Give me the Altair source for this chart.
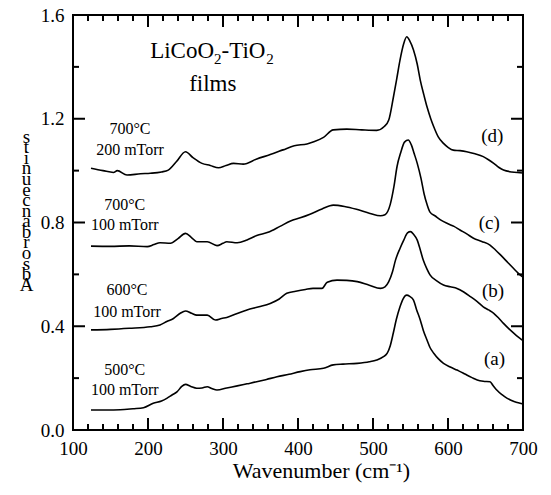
import altair as alt
import pandas as pd

FONT = "Liberation Serif"

# ---- spectra (wavenumber, absorbance) ----
x_a = [124, 145, 163, 180, 194, 207, 218, 225, 232, 239, 245, 250, 257, 265, 272, 279, 285, 292, 305, 319,
       332, 345, 358, 372, 388, 403, 416, 434, 447, 460, 479, 495, 505, 514, 519, 523, 527, 531, 536, 540,
       545, 549, 554, 558, 563, 567, 572, 576, 581, 587, 594, 603, 612, 620, 625, 632, 639, 647, 656, 660,
       665, 672, 679, 688, 696, 700]
y_a = [0.077, 0.077, 0.078, 0.082, 0.086, 0.103, 0.112, 0.122, 0.135, 0.148, 0.168, 0.176, 0.168, 0.161, 0.162,
       0.167, 0.160, 0.154, 0.162, 0.170, 0.178, 0.186, 0.195, 0.205, 0.215, 0.225, 0.232, 0.238, 0.251, 0.254,
       0.257, 0.263, 0.270, 0.283, 0.296, 0.325, 0.373, 0.425, 0.475, 0.505, 0.520, 0.515, 0.501, 0.465, 0.424,
       0.385, 0.347, 0.318, 0.296, 0.275, 0.257, 0.243, 0.231, 0.220, 0.212, 0.202, 0.193, 0.188, 0.186, 0.172,
       0.154, 0.136, 0.122, 0.110, 0.103, 0.100]

x_b = [124, 150, 175, 203, 216, 225, 234, 243, 250, 258, 265, 279, 290, 298, 305, 318, 332, 348, 363, 375,
       385, 397, 410, 420, 432, 439, 452, 465, 479, 495, 510, 516, 521, 526, 530, 536, 541, 546, 550, 554,
       559, 563, 567, 572, 576, 585, 594, 603, 612, 621, 630, 639, 647, 654, 661, 668, 674, 685, 696, 700]
y_b = [0.386, 0.388, 0.392, 0.398, 0.405, 0.418, 0.430, 0.450, 0.459, 0.450, 0.443, 0.443, 0.424, 0.430, 0.434,
       0.448, 0.463, 0.475, 0.488, 0.505, 0.527, 0.535, 0.542, 0.546, 0.546, 0.570, 0.578, 0.577, 0.572, 0.558,
       0.546, 0.552, 0.572, 0.610, 0.655, 0.700, 0.732, 0.760, 0.765, 0.755, 0.732, 0.695, 0.655, 0.620, 0.598,
       0.575, 0.559, 0.552, 0.546, 0.532, 0.514, 0.495, 0.475, 0.463, 0.450, 0.430, 0.411, 0.380, 0.353, 0.345]

x_c = [124, 150, 175, 199, 208, 216, 230, 240, 250, 258, 265, 279, 292, 300, 305, 319, 332, 345, 360, 376,
       390, 403, 416, 432, 447, 462, 478, 496, 510, 516, 523, 528, 532, 537, 542, 547, 551, 555, 559, 564,
       568, 572, 576, 583, 590, 600, 608, 616, 625, 634, 645, 656, 663, 670, 680, 690, 696, 700]
y_c = [0.709, 0.708, 0.710, 0.707, 0.715, 0.722, 0.720, 0.738, 0.758, 0.742, 0.726, 0.726, 0.711, 0.720, 0.726,
       0.722, 0.733, 0.750, 0.762, 0.785, 0.806, 0.818, 0.832, 0.852, 0.867, 0.862, 0.851, 0.835, 0.826, 0.830,
       0.870, 0.940, 1.015, 1.070, 1.110, 1.118, 1.100, 1.065, 1.028, 0.970, 0.912, 0.870, 0.840, 0.825, 0.810,
       0.795, 0.785, 0.771, 0.756, 0.739, 0.727, 0.713, 0.695, 0.675, 0.645, 0.615, 0.598, 0.590]

x_d = [124, 140, 154, 159, 172, 190, 203, 218, 227, 238, 250, 260, 272, 283, 294, 304, 314, 327, 345, 363,
       380, 395, 412, 422, 434, 447, 465, 485, 505, 515, 521, 527, 532, 536, 541, 545, 549, 554, 559, 563,
       568, 572, 577, 581, 587, 594, 600, 607, 616, 625, 636, 647, 654, 661, 668, 674, 685, 696, 700]
y_d = [1.009, 1.000, 0.993, 1.000, 0.983, 0.988, 0.990, 0.995, 1.002, 1.035, 1.073, 1.050, 1.028, 1.020, 1.011,
       1.020, 1.028, 1.025, 1.045, 1.062, 1.080, 1.096, 1.103, 1.112, 1.128, 1.157, 1.160, 1.157, 1.155, 1.170,
       1.195, 1.280, 1.360, 1.426, 1.490, 1.516, 1.500, 1.465, 1.410, 1.349, 1.290, 1.246, 1.200, 1.169, 1.130,
       1.105, 1.090, 1.079, 1.077, 1.073, 1.065, 1.054, 1.042, 1.028, 1.012, 1.002, 0.995, 0.992, 0.991]

series_names = ["(a)", "(b)", "(c)", "(d)"]

# ---- annotation texts ----
cond_text = ["500°C", "100 mTorr", "600°C", "100 mTorr", "700°C", "100 mTorr", "700°C", "200 mTorr"]
cond_x = [169, 169, 172, 172, 169, 169, 176, 176]
cond_y = [0.212, 0.135, 0.520, 0.436, 0.848, 0.771, 1.141, 1.060]

tag_x = [662, 660, 655, 659]
tag_y = [0.272, 0.536, 0.798, 1.133]

title_main = ["LiCoO", "-TiO"]
title_main_x = [202.9, 298.1]
title_main_y = [1.433, 1.433]
title_sub = ["2", "2"]
title_sub_x = [288.1, 357.7]
title_sub_y = [1.412, 1.412]
films_text = ["films"]
films_x = [286.4]
films_y = [1.308]

x_major = [100, 200, 300, 400, 500, 600, 700]
x_minor = [v for v in range(100, 701, 20) if v % 100 != 0]
y_major = [0.0, 0.4, 0.8, 1.2, 1.6]
y_minor = [0.2, 0.6, 1.0, 1.4]

y_title = list(reversed(list("Absorbance units")))

# ---- tables ----
frames = []
for name, xs_, ys_ in zip(series_names, [x_a, x_b, x_c, x_d], [y_a, y_b, y_c, y_d]):
    frames.append(pd.DataFrame({"wn": xs_, "abs": ys_, "series": name}))
curves = pd.concat(frames, ignore_index=True)

cond_df = pd.DataFrame({"wn": cond_x, "abs": cond_y, "label": cond_text})
tag_df = pd.DataFrame({"wn": tag_x, "abs": tag_y, "label": series_names})
tmain_df = pd.DataFrame({"wn": title_main_x, "abs": title_main_y, "label": title_main})
tsub_df = pd.DataFrame({"wn": title_sub_x, "abs": title_sub_y, "label": title_sub})
films_df = pd.DataFrame({"wn": films_x, "abs": films_y, "label": films_text})

W, H = 450, 415
MAJ, MIN = 12, 6

xscale = alt.Scale(domain=[100, 700], nice=False, zero=False)
yscale = alt.Scale(domain=[0, 1.6], nice=False, zero=False)

x_axis = alt.Axis(values=x_major, ticks=False, domain=False, grid=False, labelFlush=False,
                  labelOverlap=False, labelPadding=9, labelFont=FONT, labelFontSize=19,
                  labelColor="black", title="Wavenumber (cm⁻¹)", titleFont=FONT, titleFontSize=22,
                  titleFontWeight="normal", titleColor="black", titleX=248, titleY=47,
                  titleBaseline="alphabetic", titleAlign="center")
y_axis = alt.Axis(values=y_major, ticks=False, domain=False, grid=False, labelFlush=False,
                  labelOverlap=False, labelPadding=9, format=".1f", labelFont=FONT, labelFontSize=19,
                  labelColor="black", title=y_title, titleFont=FONT, titleFontSize=19,
                  titleFontWeight="normal", titleColor="black", titleAngle=0, titleLineHeight=10.6,
                  titleX=-47, titleY=121, titleAlign="center", titleBaseline="middle")

lines = alt.Chart(curves).mark_line(color="black", strokeWidth=1.6, interpolate="monotone").encode(
    x=alt.X("wn:Q", scale=xscale, axis=x_axis),
    y=alt.Y("abs:Q", scale=yscale, axis=y_axis),
    detail="series:N",
)


def text_layer(df, size, align, baseline):
    return alt.Chart(df).mark_text(font=FONT, fontSize=size, color="black", align=align,
                                   baseline=baseline).encode(
        x=alt.X("wn:Q", scale=xscale, axis=None),
        y=alt.Y("abs:Q", scale=yscale, axis=None),
        text="label:N",
    )


cond = text_layer(cond_df, 16, "center", "alphabetic")
tags = text_layer(tag_df, 19, "center", "middle")
tmain = text_layer(tmain_df, 23, "left", "alphabetic")
tsub = text_layer(tsub_df, 15, "left", "alphabetic")
films = text_layer(films_df, 23, "center", "alphabetic")

# inward tick marks on all four sides (positions from the axis scales)
xmaj_df = pd.DataFrame({"v": x_major})
xmin_df = pd.DataFrame({"v": x_minor})
ymaj_df = pd.DataFrame({"v": y_major})
ymin_df = pd.DataFrame({"v": y_minor})


def xticks(df, y0, y1):
    return alt.Chart(df).mark_rule(color="black", strokeWidth=2).encode(
        x=alt.X("v:Q", scale=xscale, axis=None), y=alt.value(y0), y2=alt.value(y1))


def yticks(df, x0, x1):
    return alt.Chart(df).mark_rule(color="black", strokeWidth=2).encode(
        y=alt.Y("v:Q", scale=yscale, axis=None), x=alt.value(x0), x2=alt.value(x1))


ticks = [
    xticks(xmaj_df, H, H - MAJ), xticks(xmin_df, H, H - MIN),
    xticks(xmaj_df, 0, MAJ), xticks(xmin_df, 0, MIN),
    yticks(ymaj_df, 0, MAJ), yticks(ymin_df, 0, MIN),
    yticks(ymaj_df, W, W - MAJ), yticks(ymin_df, W, W - MIN),
]

chart = alt.layer(lines, cond, tags, tmain, tsub, films, *ticks).resolve_axis(
    x="independent", y="independent"
).properties(
    width=W, height=H,
    padding={"left": 65, "top": 7, "right": 20, "bottom": 57},
    autosize=alt.AutoSizeParams(type="none"),
    background="white",
).configure_view(stroke="black", strokeWidth=2)

chart.save("out.html", embed_options={"renderer": "svg", "actions": False})
